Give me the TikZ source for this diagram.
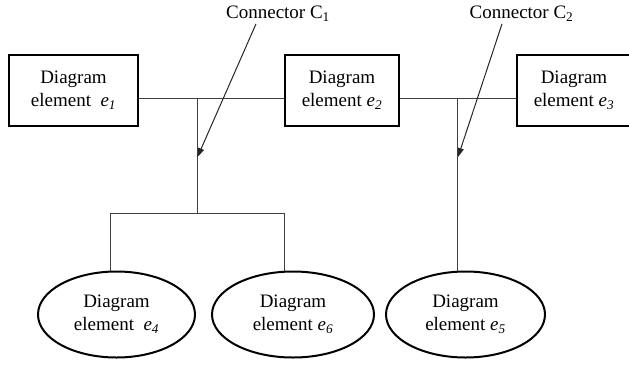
\documentclass[tikz,border=0pt]{standalone}
\usepackage{fontspec}
\setmainfont{Liberation Serif}
\usetikzlibrary{shapes.geometric,arrows.meta}
\begin{document}
\begin{tikzpicture}[x=1pt,y=-1pt,
  every node/.style={font=\fontsize{19}{23}\selectfont, align=center, inner sep=0pt},
  elbox/.style={draw=black, line width=2pt, rectangle, minimum width=#1, minimum height=71},
  elell/.style={draw=black, line width=2pt, ellipse, minimum width=#1, minimum height=86},
  conn/.style={draw=black!75, line width=1pt},
  pointer/.style={draw=black!85, line width=1pt, -{Triangle[length=9pt,width=6pt]}},
  lbl/.style={font=\fontsize{19}{23}\selectfont}
]
\useasboundingbox (0,0) rectangle (629,365);
% elements
\node[elbox=129] (e1) at (73.5,90.5) {Diagram\\element\ \ \textit{e}\textsubscript{\textit{1}}};
\node[elbox=114] (e2) at (342,90.5) {Diagram\\element \textit{e}\textsubscript{\textit{2}}};
\node[elbox=114] (e3) at (574,90.5) {Diagram\\element \textit{e}\textsubscript{\textit{3}}};
\node[elell=157] (e4) at (116.5,314.5) {Diagram\\element\ \ \textit{e}\textsubscript{\textit{4}}};
\node[elell=162] (e6) at (293,314.5) {Diagram\\element \textit{e}\textsubscript{\textit{6}}};
\node[elell=159] (e5) at (465.5,314.5) {Diagram\\element \textit{e}\textsubscript{\textit{5}}};
% junctions
\coordinate (j1) at (197,98);
\coordinate (k1) at (197,213);
\coordinate (b4) at (110,213);
\coordinate (b6) at (284,213);
\coordinate (j2) at (457.5,98);
% connectors
\draw[conn] ([yshift=-7.5pt]e1.east) -- ([yshift=-7.5pt]e2.west);
\draw[conn] ([yshift=-7.5pt]e2.east) -- ([yshift=-7.5pt]e3.west);
\draw[conn] (j1) -- (k1);
\draw[conn] (b4 |- e4.north) -- (b4) -- (b6) -- (b6 |- e6.north);
\draw[conn] (j2) -- (j2 |- e5.north);
% labels
\node[lbl] (c1) at (278,14) {Connector C\textsubscript{1}};
\node[lbl] (c2) at (521.5,14) {Connector C\textsubscript{2}};
\coordinate (t1) at (197.5,157);
\coordinate (t2) at (458,157);
\draw[pointer] ([xshift=-22pt,yshift=-2pt]c1.south) -- (t1);
\draw[pointer] ([xshift=-19.5pt,yshift=-2pt]c2.south) -- (t2);
\end{tikzpicture}
\end{document}
